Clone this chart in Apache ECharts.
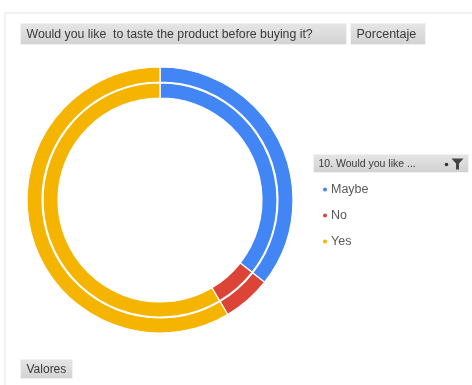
<!DOCTYPE html>
<html>
<head>
<meta charset="utf-8">
<script src="https://cdn.jsdelivr.net/npm/echarts@6/dist/echarts.min.js"></script>
<style>
  html, body { margin: 0; padding: 0; background: #fff; }
  #chart { width: 472px; height: 385px; }
</style>
</head>
<body>
<div id="chart"></div>
<script>
// Answers to "Would you like to taste the product before buying it?" (percent)
const categories = ['Maybe', 'No', 'Yes'];
const percentValues = [35.6, 5.9, 58.5];
const sliceColors = ['#4285F4', '#DB4437', '#F4B400'];

const fieldTitle = 'Would you like  to taste the product before buying it?';
const valueField = 'Porcentaje';
const legendTitle = '10. Would you like ...';
const valuesButton = 'Valores';

const chart = echarts.init(document.getElementById('chart'), null, { renderer: 'canvas' });

const pieData = categories.map((name, i) => ({
  name,
  value: percentValues[i],
  itemStyle: { color: sliceColors[i] }
}));

function ring(radius) {
  return {
    type: 'pie',
    radius,
    center: [160, 200],
    startAngle: 90,
    clockwise: true,
    avoidLabelOverlap: false,
    label: { show: false },
    labelLine: { show: false },
    silent: true,
    itemStyle: { borderColor: '#ffffff', borderWidth: 1.2 },
    data: pieData
  };
}

// Gray pivot-field button
function fieldButton(x, y, w, h, text, size) {
  return {
    type: 'group',
    left: x, top: y,
    children: [
      {
        type: 'rect',
        shape: { x: 0, y: 0, width: w, height: h },
        style: {
          fill: new echarts.graphic.LinearGradient(0, 0, 0, 1, [
            { offset: 0, color: '#e6e6e6' },
            { offset: 1, color: '#d2d2d2' }
          ]),
          stroke: '#f2f2f2', lineWidth: 1
        }
      },
      {
        type: 'text',
        style: {
          x: 6, y: h / 2 + 0.5, text,
          fill: '#3a3a3a',
          font: size + 'px "Liberation Sans", Arial, sans-serif',
          verticalAlign: 'middle'
        }
      }
    ]
  };
}

chart.setOption({
  animation: false,
  backgroundColor: '#ffffff',
  legend: {
    orient: 'vertical',
    left: 316,
    top: 178,
    itemGap: 13,
    itemWidth: 6,
    itemHeight: 6,
    icon: 'circle',
    textStyle: { color: '#595959', fontSize: 12.5, fontFamily: '"Liberation Sans", Arial, sans-serif', padding: [0, 0, 0, -2] },
    data: categories
  },
  series: [ring([102, 117]), ring([118, 133])],
  graphic: [
    // chart frame edges
    { type: 'line', shape: { x1: 5, y1: 13, x2: 472, y2: 13 }, style: { stroke: '#e4e4e4', lineWidth: 1 } },
    { type: 'line', shape: { x1: 5, y1: 13, x2: 5, y2: 385 }, style: { stroke: '#e4e4e4', lineWidth: 1 } },
    fieldButton(20, 23, 326, 21, fieldTitle, 12.3),
    fieldButton(350, 23, 75, 21, valueField, 12.5),
    fieldButton(20, 359, 52, 19, valuesButton, 12),
    {
      type: 'group',
      left: 313, top: 154,
      children: [
        {
          type: 'rect',
          shape: { x: 0, y: 0, width: 155, height: 18 },
          style: {
            fill: new echarts.graphic.LinearGradient(0, 0, 0, 1, [
              { offset: 0, color: '#e6e6e6' },
              { offset: 1, color: '#d0d0d0' }
            ]),
            stroke: '#f2f2f2', lineWidth: 1
          }
        },
        {
          type: 'text',
          style: {
            x: 5, y: 9.5, text: legendTitle,
            fill: '#3a3a3a',
            font: '10.5px "Liberation Sans", Arial, sans-serif',
            verticalAlign: 'middle'
          }
        },
        // dropdown marker
        { type: 'circle', shape: { cx: 133, cy: 10, r: 1.8 }, style: { fill: '#333' } },
        // filter funnel
        { type: 'polygon', shape: { points: [[138, 4], [150, 4], [145.5, 9], [145.5, 15], [142.5, 15], [142.5, 9]] }, style: { fill: '#444' } }
      ]
    }
  ]
});
</script>
</body>
</html>
